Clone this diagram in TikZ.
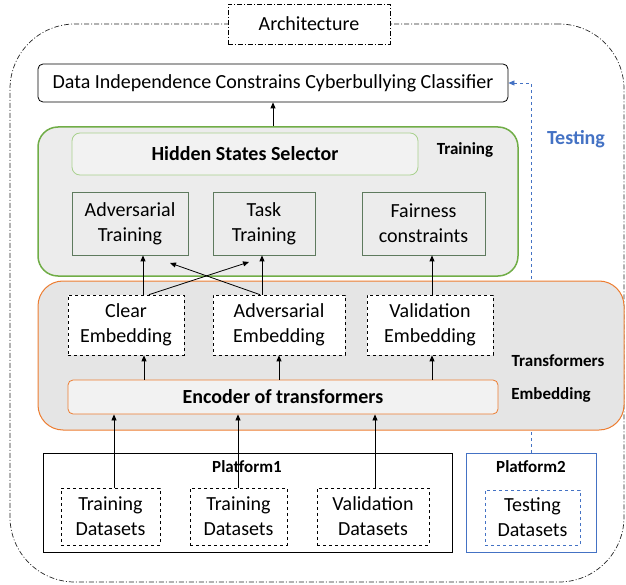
\documentclass[tikz,border=0pt]{standalone}
\usepackage{fontspec}
\setmainfont{Carlito}
\usetikzlibrary{arrows.meta,backgrounds}
\definecolor{gborder}{HTML}{70AD47}
\definecolor{lgborder}{HTML}{A9D18E}
\definecolor{oborder}{HTML}{ED7D31}
\definecolor{bblue}{HTML}{4472C4}
\definecolor{tborder}{HTML}{5E7A5E}
\definecolor{gfill}{HTML}{ECECEC}
\definecolor{ofill}{HTML}{E5E5E5}
\definecolor{hfill}{HTML}{F2F2F2}
\tikzset{
  txt/.style={font=\fontsize{20}{25}\selectfont},
  lbl/.style={font=\fontsize{17}{20}\selectfont\bfseries},
  frame/.style={draw, inner sep=0pt},
  dashdotline/.style={dash pattern=on 5pt off 2pt on 1pt off 2pt, line width=0.7pt},
  trainbox/.style={frame, draw=tborder, line width=0.8pt, align=center, txt},
  embbox/.style={frame, dashed, fill=white, line width=0.7pt, align=center, txt},
  databox/.style={frame, dashed, line width=0.7pt, align=center, txt},
  arr/.style={-{Triangle[length=6pt,width=5pt]}, line width=0.8pt},
}
\begin{document}
\begin{tikzpicture}[x=1pt,y=-1pt]
\useasboundingbox (0,0) rectangle (626,585);
% outer frame
\node[frame, dashdotline, draw=black!85, rounded corners=65, minimum width=614pt, minimum height=558pt] (outer) at (317,303) {};
\node[frame, dashdotline, fill=white, minimum width=162pt, minimum height=40pt, txt] (arch) at (309,24) {Architecture};
% classifier
\node[frame, rounded corners=5, line width=0.8pt, minimum width=470pt, minimum height=38pt, txt] (cls) at (273,83) {Data Independence Constrains Cyberbullying Classifier};
% training block
\node[frame, draw=gborder, fill=gfill, line width=1.5pt, rounded corners=20, minimum width=480pt, minimum height=149pt] (green) at (278,201.5) {};
\node[frame, draw=lgborder, fill=hfill, line width=0.8pt, rounded corners=8, minimum width=346pt, minimum height=42pt, font=\fontsize{20}{25}\selectfont\bfseries] (hss) at (245,154) {Hidden States Selector};
\node[lbl] (trainlbl) at (465,150) {Training};
\node[trainbox, minimum width=116pt, minimum height=63pt] (advt) at (130,223.5) {Adversarial\\Training};
\node[trainbox, minimum width=102pt, minimum height=63pt] (taskt) at (264,223.5) {Task\\Training};
\node[trainbox, minimum width=123pt, minimum height=63pt] (fair) at (423.5,223.5) {Fairness\\constraints};
% transformers block
\node[frame, draw=oborder, fill=ofill, line width=1pt, rounded corners=25, minimum width=586pt, minimum height=149pt] (orange) at (331,355.5) {};
\node[embbox, minimum width=116pt, minimum height=60pt] (cle) at (126,325) {Clear\\Embedding};
\node[embbox, minimum width=132pt, minimum height=60pt] (adve) at (279,325) {Adversarial\\Embedding};
\node[embbox, minimum width=126pt, minimum height=60pt] (vale) at (430,325) {Validation\\Embedding};
\node[lbl] (translbl) at (558,361) {Transformers};
\node[lbl] (emblbl) at (551,395) {Embedding};
\node[frame, draw=oborder, fill=hfill, line width=0.8pt, rounded corners=5, minimum width=430pt, minimum height=34pt, font=\fontsize{20}{25}\selectfont\bfseries] (enc) at (283,397) {Encoder of transformers};
% platforms
\node[frame, line width=0.8pt, minimum width=409pt, minimum height=99pt] (p1) at (247.5,502.5) {};
\node[lbl] (p1lbl) at (247,467) {Platform1};
\node[databox, minimum width=99pt, minimum height=57pt] (td1) at (110.5,516.5) {Training\\Datasets};
\node[databox, minimum width=97pt, minimum height=57pt] (td2) at (238.5,516.5) {Training\\Datasets};
\node[databox, minimum width=112pt, minimum height=57pt] (vd) at (373,516.5) {Validation\\Datasets};
\node[frame, draw=bblue, line width=0.8pt, minimum width=130pt, minimum height=99pt] (p2) at (531,502.5) {};
\node[lbl] (p2lbl) at (531,467) {Platform2};
\node[databox, draw=bblue, minimum width=95pt, minimum height=55pt] (testd) at (532.5,517.5) {Testing\\Datasets};
\node[font=\fontsize{20}{24}\selectfont\bfseries, text=bblue] (testlbl) at (576,139) {Testing};
% connectors
\coordinate (tipA) at (170,263);
\coordinate (tipB) at (249,262);
\draw[arr] (cls.south |- green.north) -- (cls.south);
\draw[arr] (143,0 |- cle.north) -- (143,0 |- advt.south);
\draw[arr] (149,0 |- cle.north) -- (tipB);
\draw[arr] (262,0 |- adve.north) -- (262,0 |- taskt.south);
\draw[arr] (260,0 |- adve.north) -- (tipA);
\draw[arr] (432,0 |- vale.north) -- (432,0 |- fair.south);
\draw[arr] (144,0 |- enc.north) -- (144,0 |- cle.south);
\draw[arr] (279,0 |- enc.north) -- (279,0 |- adve.south);
\draw[arr] (432,0 |- enc.north) -- (432,0 |- vale.south);
\draw[arr] (114,0 |- td1.north) -- (114,0 |- enc.south);
\draw[arr] (238,0 |- td2.north) -- (238,0 |- enc.south);
\draw[arr] (375,0 |- vd.north) -- (375,0 |- enc.south);
\begin{scope}[on background layer]
\draw[draw=bblue, dashed, line width=0.7pt, -{Triangle[length=6pt,width=5pt]}] (531,0 |- p2.north) -- (531,0 |- cls.east) -- (cls.east);
\end{scope}
\end{tikzpicture}
\end{document}
